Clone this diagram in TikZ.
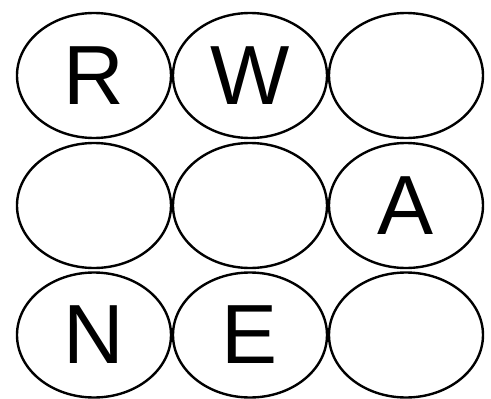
\documentclass[tikz,border=0pt]{standalone}
\usepackage{fontspec}
\setmainfont{Liberation Sans}
\usetikzlibrary{shapes.geometric}
\begin{document}
\begin{tikzpicture}[x=1pt,y=-1pt,
  cell/.style={draw=black,line width=2.4pt,ellipse,minimum width=154pt,minimum height=125pt,inner sep=0pt,
    font=\fontsize{84}{84}\selectfont}]
\useasboundingbox (0,0) rectangle (491,399);
\node[cell] (c11) at (94,75.5) {R};
\node[cell] (c12) at (250,75.5) {W};
\node[cell] (c13) at (406,75.5) {};
\node[cell] (c21) at (94,205.5) {};
\node[cell] (c22) at (250,205.5) {};
\node[cell] (c23) at (406,205.5) {A};
\node[cell] (c31) at (94,335) {N};
\node[cell] (c32) at (250,335) {E};
\node[cell] (c33) at (406,335) {};
\end{tikzpicture}
\end{document}
